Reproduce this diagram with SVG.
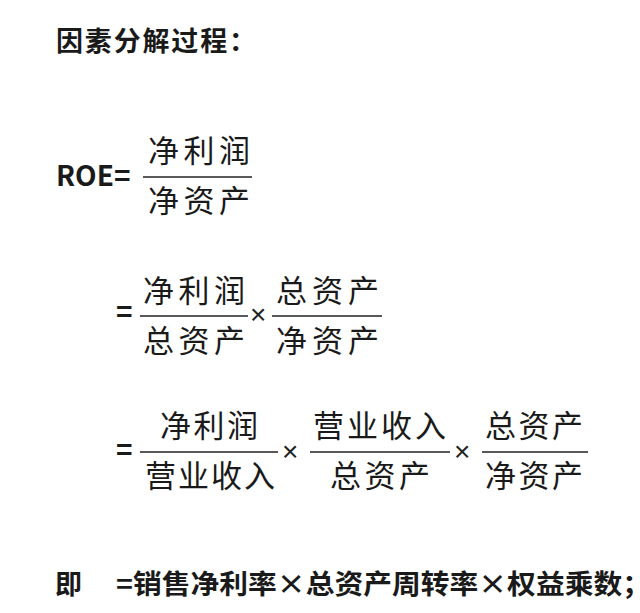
<svg xmlns="http://www.w3.org/2000/svg" width="640" height="613" viewBox="0 0 640 613">
<style>
.t{font-family:"Noto Sans CJK SC","Liberation Sans",sans-serif;fill:#1a1a1a}
.b{font-weight:bold}
.f{font-size:31px}
.l{stroke:#222;stroke-width:1.5}
.x{font-family:"Liberation Sans",sans-serif;font-size:28px;fill:#222}
</style>
<rect width="640" height="613" fill="#fff"/>
<text class="t b" x="56" y="51" font-size="27" textLength="200">因素分解过程：</text>
<text class="t b" x="56" y="186" font-size="28" font-family="Liberation Sans">ROE=</text>
<text class="t f" x="148" y="162" textLength="102">净利润</text>
<line class="l" x1="143" y1="177" x2="252" y2="177"/>
<text class="t f" x="148" y="212" textLength="102">净资产</text>

<text class="t b" x="116" y="322" font-size="28" font-family="Liberation Sans">=</text>
<text class="t f" x="143" y="302" textLength="102">净利润</text>
<line class="l" x1="140" y1="316" x2="248" y2="316"/>
<text class="t f" x="143" y="352" textLength="102">总资产</text>
<text class="x" x="250" y="324">×</text>
<text class="t f" x="276" y="302" textLength="103">总资产</text>
<line class="l" x1="272" y1="316" x2="382" y2="316"/>
<text class="t f" x="276" y="352" textLength="103">净资产</text>

<text class="t b" x="116" y="460" font-size="28" font-family="Liberation Sans">=</text>
<text class="t f" x="160" y="437" textLength="98">净利润</text>
<line class="l" x1="140" y1="452" x2="278" y2="452"/>
<text class="t f" x="145" y="487" textLength="130">营业收入</text>
<text class="x" x="282" y="461">×</text>
<text class="t f" x="313" y="437" textLength="133">营业收入</text>
<line class="l" x1="310" y1="452" x2="450" y2="452"/>
<text class="t f" x="330" y="487" textLength="100">总资产</text>
<text class="x" x="454" y="461">×</text>
<text class="t f" x="485" y="437" textLength="98">总资产</text>
<line class="l" x1="482" y1="452" x2="588" y2="452"/>
<text class="t f" x="485" y="487" textLength="98">净资产</text>

<text class="t b" x="55" y="594" font-size="27">即</text>
<text class="t b" x="116" y="594" font-size="27" textLength="535" lengthAdjust="spacingAndGlyphs">=销售净利率×总资产周转率×权益乘数；</text>
</svg>
